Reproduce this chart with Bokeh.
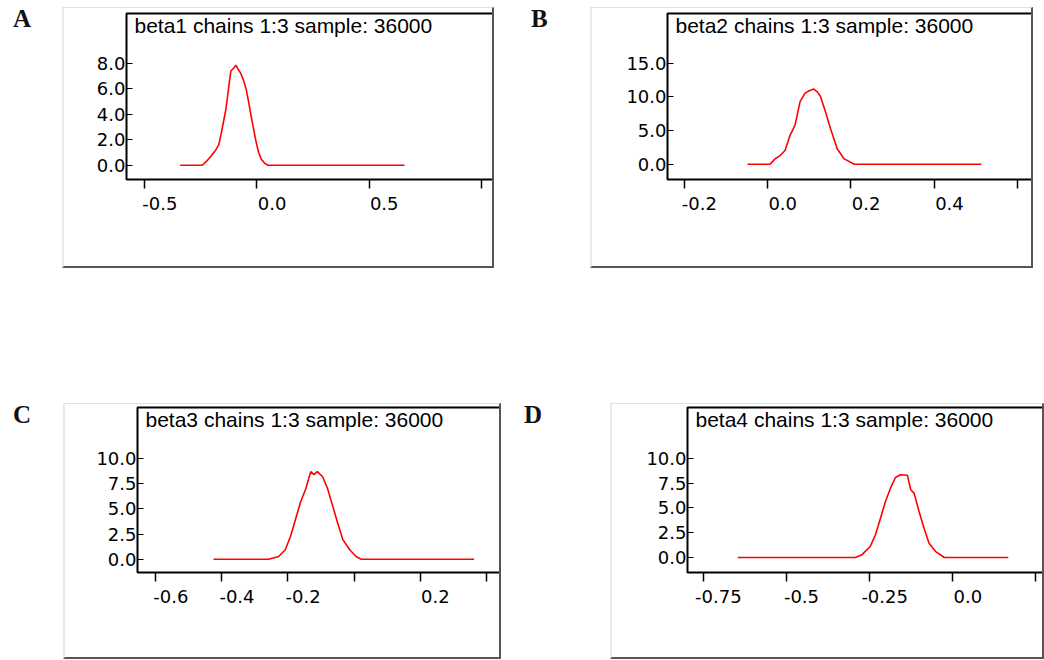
from bokeh.plotting import figure
from bokeh.models import Label, Div, Spacer, FixedTicker, LinearAxis, Range1d
from bokeh.layouts import row, column
from bokeh.embed import file_html
from bokeh.resources import INLINE

# ---- data ----
titles = ["beta1 chains 1:3 sample: 36000",
          "beta2 chains 1:3 sample: 36000",
          "beta3 chains 1:3 sample: 36000",
          "beta4 chains 1:3 sample: 36000"]
letters = ["A", "B", "C", "D"]

beta1_x = [-0.342, -0.243, -0.225, -0.205, -0.183, -0.170, -0.161, -0.150, -0.138, -0.127,
           -0.116, -0.105, -0.093, -0.082, -0.071, -0.060, -0.048, -0.037, -0.026, -0.014,
           -0.003, 0.008, 0.019, 0.035, 0.050, 0.658]
beta1_y = [0, 0, 0.3, 0.7, 1.2, 1.6, 2.3, 3.3, 4.4, 5.9,
           7.4, 7.6, 7.85, 7.5, 7.2, 6.7, 6.0, 5.0, 3.9, 2.8,
           1.8, 1.0, 0.5, 0.15, 0, 0]

beta2_x = [-0.048, 0.006, 0.018, 0.030, 0.042, 0.054, 0.066, 0.078, 0.090, 0.100,
           0.111, 0.120, 0.127, 0.139, 0.151, 0.167, 0.184, 0.208, 0.513]
beta2_y = [0, 0, 0.8, 1.3, 2.05, 4.3, 5.8, 9.3, 10.55, 10.9,
           11.15, 10.7, 10.05, 7.8, 5.3, 2.3, 0.8, 0, 0]

beta3_x = [-0.425, -0.258, -0.228, -0.208, -0.192, -0.177, -0.162, -0.146, -0.131, -0.121,
           -0.111, -0.095, -0.080, -0.065, -0.050, -0.034, -0.013, 0.006, 0.022, 0.363]
beta3_y = [0, 0, 0.27, 0.94, 2.29, 3.97, 5.66, 7.0, 8.69, 8.4,
           8.69, 8.18, 7.0, 5.32, 3.64, 1.95, 0.94, 0.27, 0, 0]

beta4_x = [-0.646, -0.293, -0.273, -0.248, -0.232, -0.217, -0.202, -0.187, -0.172, -0.157,
           -0.136, -0.126, -0.116, -0.101, -0.086, -0.071, -0.051, -0.025, 0.167]
beta4_y = [0, 0, 0.27, 1.11, 2.29, 3.97, 5.66, 7.0, 8.08, 8.35,
           8.3, 6.84, 6.5, 4.65, 2.96, 1.45, 0.6, 0, 0]

xticks = [[-0.5, 0.0, 0.5, 1.0],
          [-0.2, 0.0, 0.2, 0.4, 0.6],
          [-0.6, -0.4, -0.2, 0.0, 0.2, 0.4],
          [-0.75, -0.5, -0.25, 0.0, 0.25]]
xlabels = [["-0.5", "0.0", "0.5", ""],
           ["-0.2", "0.0", "0.2", "0.4", ""],
           ["-0.6", "-0.4", "-0.2", "", "0.2", ""],
           ["-0.75", "-0.5", "-0.25", "0.0", ""]]
yticks = [[0, 2, 4, 6, 8],
          [0, 5, 10, 15],
          [0, 2.5, 5, 7.5, 10],
          [0, 2.5, 5, 7.5, 10]]
ylabels = [["0.0", "2.0", "4.0", "6.0", "8.0"],
           ["0.0", "5.0", "10.0", "15.0"],
           ["0.0", "2.5", "5.0", "7.5", "10.0"],
           ["0.0", "2.5", "5.0", "7.5", "10.0"]]
xranges = [(-0.581, 1.068), (-0.240, 0.638), (-0.655, 0.452), (-0.797, 0.282)]
yranges = [(-1.12, 11.92), (-2.25, 22.35), (-1.31, 15.05), (-1.515, 15.15)]

SANS = "'Liberation Sans'"
TICKFONT = "'DejaVu Sans'"
LABEL_SHIFT_PX = 15   # the tick labels sit to the right of their tick marks
BORDER_L, BORDER_R = 2, 2   # css border widths of each panel window


def panel(i, xs, ys, w, h, bl, br, bt, bb):
    p = figure(width=w, height=h, output_backend="svg", toolbar_location=None,
               x_range=xranges[i], y_range=yranges[i],
               min_border_left=bl, min_border_right=br, min_border_top=bt, min_border_bottom=bb,
               background_fill_color="white", border_fill_color="white")
    p.grid.visible = False
    p.outline_line_color = "black"
    p.outline_line_width = 2
    p.line(xs, ys, line_color="red", line_width=1.6)

    # tick marks only (no labels drawn on this axis)
    xa = p.xaxis[0]
    xa.ticker = FixedTicker(ticks=xticks[i])
    xa.major_label_text_color = None
    xa.major_label_text_font_size = "1px"
    xa.major_label_standoff = 0
    xa.axis_line_color = None
    xa.major_tick_out = 9
    xa.major_tick_in = 0
    xa.major_tick_line_width = 1.5
    xa.minor_tick_line_color = None

    # tick labels: an axis on a range offset by a few pixels
    fw = w - BORDER_L - BORDER_R - bl - br
    d = LABEL_SHIFT_PX * (xranges[i][1] - xranges[i][0]) / fw
    p.extra_x_ranges = {"lab": Range1d(xranges[i][0] - d, xranges[i][1] - d)}
    lt = [t for t, l in zip(xticks[i], xlabels[i]) if l]
    lab = LinearAxis(x_range_name="lab", ticker=FixedTicker(ticks=lt),
                     major_label_overrides={t: l for t, l in zip(xticks[i], xlabels[i]) if l},
                     axis_line_color=None, major_tick_line_color=None,
                     minor_tick_line_color=None, major_tick_out=0, major_tick_in=0,
                     major_label_standoff=8,
                     major_label_text_font=TICKFONT, major_label_text_font_size="18px",
                     major_label_text_color="black")
    p.add_layout(lab, "below")

    ya = p.yaxis[0]
    ya.ticker = FixedTicker(ticks=yticks[i])
    ya.major_label_overrides = {t: l for t, l in zip(yticks[i], ylabels[i])}
    ya.axis_line_color = None
    ya.major_tick_out = 0
    ya.major_tick_in = 6
    ya.major_tick_line_width = 1.2
    ya.minor_tick_line_color = None
    ya.major_label_standoff = 1
    ya.major_label_text_font = TICKFONT
    ya.major_label_text_font_size = "18px"
    ya.major_label_text_color = "black"

    p.add_layout(Label(x=xranges[i][0], y=yranges[i][1], x_offset=8, y_offset=0,
                       text=titles[i], text_baseline="top", text_align="left",
                       text_font=SANS, text_font_size="21px", text_color="black"))
    p.styles = {"border-top": "1px solid #e2e2da",
                "border-left": f"{BORDER_L}px solid #ebebe3",
                "border-bottom": "2px solid #555555",
                "border-right": f"{BORDER_R}px solid #555555",
                "box-sizing": "border-box"}
    return p


def letter(t, w, h, pad):
    return Div(text=t, width=w, height=h, margin=0,
               styles={"font-family": "Liberation Serif", "font-weight": "bold",
                       "font-size": "25px", "line-height": "25px", "color": "#111",
                       "padding-left": f"{pad}px", "margin-top": "-1px",
                       "box-sizing": "border-box"})


pA = panel(0, beta1_x, beta1_y, 432, 261, 62, 0, 5, 90)
pB = panel(1, beta2_x, beta2_y, 443, 261, 75, 2, 5, 89)
pC = panel(2, beta3_x, beta3_y, 438, 256, 72, 0, 3, 88)
pD = panel(3, beta4_x, beta4_y, 434, 256, 75, 0, 2, 86)

row1 = row(letter(letters[0], 62, 261, 13), pA, letter(letters[1], 96, 261, 37), pB)
row2 = row(letter(letters[2], 63, 256, 13), pC, letter(letters[3], 109, 256, 23), pD)
layout = column(Spacer(width=1, height=7), row1, Spacer(width=1, height=135), row2)

open("out.html", "w").write(file_html(layout, INLINE))
